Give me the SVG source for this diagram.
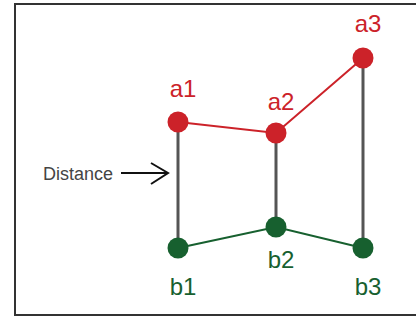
<svg xmlns="http://www.w3.org/2000/svg" width="416" height="320" viewBox="0 0 416 320">
<style>
.lbl{font-family:"Liberation Sans",Arial,sans-serif;font-size:24px;text-anchor:middle}
.red{fill:#cc2229}
.grn{fill:#17602f}
.gray{stroke:#555;stroke-width:3;fill:none}
.rl{stroke:#cc2229;stroke-width:2;fill:none}
.gl{stroke:#17602f;stroke-width:2;fill:none}
</style>
<rect x="0" y="0" width="416" height="320" fill="#fff"/>
<rect x="15" y="4" width="420" height="311" fill="none" stroke="#333" stroke-width="2"/>
<g id="connectors">
<line class="gray" x1="178" y1="122" x2="178" y2="248"/>
<line class="gray" x1="276" y1="133" x2="276" y2="227"/>
<line class="gray" x1="363" y1="58" x2="363" y2="248"/>
<polyline class="rl" points="178,122 276,133 363,58"/>
<polyline class="gl" points="178,248 276,227 363,248"/>
<line x1="121" y1="173" x2="167" y2="173" stroke="#111" stroke-width="2"/>
<polyline points="151,163 168,173 151,184" fill="none" stroke="#111" stroke-width="2"/>
</g>
<g id="a1"><circle class="red" cx="178" cy="122" r="10.5"/><text class="lbl red" x="183" y="97">a1</text></g>
<g id="a2"><circle class="red" cx="276" cy="133" r="10.5"/><text class="lbl red" x="281" y="110">a2</text></g>
<g id="a3"><circle class="red" cx="363" cy="58" r="10.5"/><text class="lbl red" x="368" y="32">a3</text></g>
<g id="b1"><circle class="grn" cx="178" cy="248" r="10.5"/><text class="lbl grn" x="183" y="295">b1</text></g>
<g id="b2"><circle class="grn" cx="276" cy="227" r="10.5"/><text class="lbl grn" x="281" y="268">b2</text></g>
<g id="b3"><circle class="grn" cx="363" cy="248" r="10.5"/><text class="lbl grn" x="368" y="295">b3</text></g>
<g id="distance"><text x="43" y="180" font-family="Liberation Sans,Arial,sans-serif" font-size="18" fill="#444">Distance</text></g>
</svg>
